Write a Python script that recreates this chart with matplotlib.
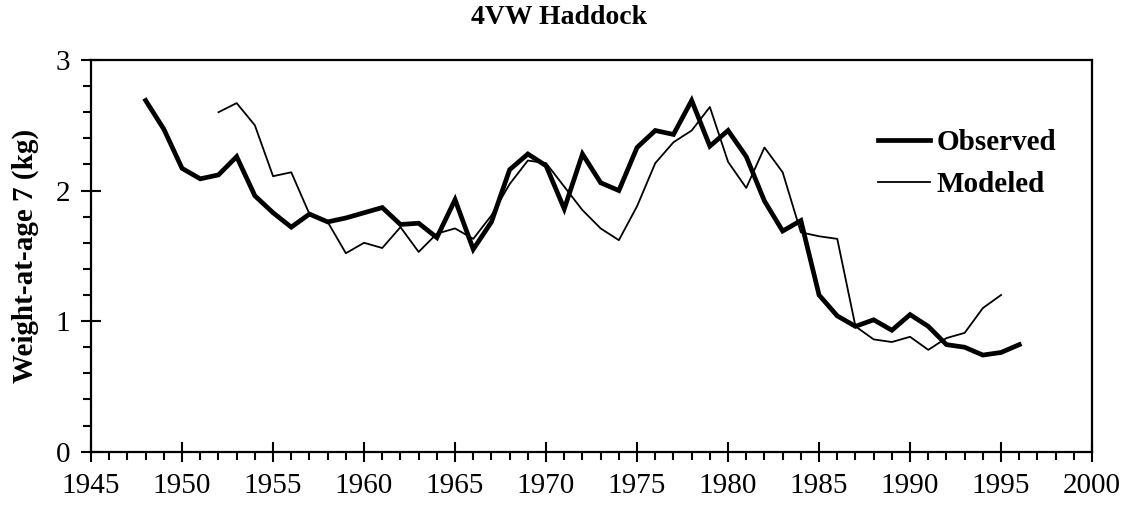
import matplotlib
matplotlib.use("Agg")
import matplotlib.pyplot as plt
from matplotlib.ticker import MultipleLocator

plt.rcParams['font.family'] = ['Liberation Serif', 'DejaVu Serif']

# Weight-at-age 7 of 4VW haddock (kg)
obs_years = list(range(1948, 1997))
observed = [2.69, 2.47, 2.17, 2.09, 2.12, 2.26, 1.96, 1.83, 1.72, 1.82,
            1.76, 1.79, 1.83, 1.87, 1.74, 1.75, 1.64, 1.93, 1.55, 1.76,
            2.16, 2.28, 2.19, 1.86, 2.28, 2.06, 2.00, 2.33, 2.46, 2.43,
            2.69, 2.34, 2.46, 2.26, 1.92, 1.69, 1.77, 1.20, 1.04, 0.96,
            1.01, 0.93, 1.05, 0.96, 0.82, 0.80, 0.74, 0.76, 0.82]

mod_years = list(range(1952, 1996))
modeled = [2.60, 2.67, 2.50, 2.11, 2.14, 1.82, 1.76, 1.52, 1.60, 1.56,
           1.72, 1.53, 1.67, 1.71, 1.63, 1.81, 2.05, 2.23, 2.21, 2.03,
           1.85, 1.71, 1.62, 1.88, 2.21, 2.37, 2.46, 2.64, 2.22, 2.02,
           2.33, 2.14, 1.68, 1.65, 1.63, 0.96, 0.86, 0.84, 0.88, 0.78,
           0.87, 0.91, 1.10, 1.20]

fig = plt.figure(figsize=(11.27, 5.12), dpi=100)
ax = fig.add_axes([0.0808, 0.1178, 0.8882, 0.765])

ax.plot(obs_years, observed, color='black', lw=3.4, solid_joinstyle='miter',
        label='Observed')
ax.plot(mod_years, modeled, color='black', lw=1.3, label='Modeled')

ax.set_xlim(1945, 2000)
ax.set_ylim(0, 3)
ax.xaxis.set_major_locator(MultipleLocator(5))
ax.xaxis.set_minor_locator(MultipleLocator(1))
ax.yaxis.set_major_locator(MultipleLocator(1))
ax.yaxis.set_minor_locator(MultipleLocator(0.2))

ax.tick_params(which='major', direction='inout', length=14, width=1.5,
               labelsize=21, pad=8)
ax.tick_params(axis='y', which='major', pad=8)
ax.tick_params(which='minor', direction='out', length=6, width=1.5)

for sp in ax.spines.values():
    sp.set_linewidth(1.6)

ax.set_ylabel('Weight-at-age 7 (kg)', fontsize=21, fontweight='bold',
              labelpad=12)
fig.text(0.496, 1 - 18 / 512, '4VW Haddock', fontsize=20, fontweight='bold',
         ha='center', va='center')

leg = ax.legend(loc='upper right', bbox_to_anchor=(0.99, 0.89), frameon=False,
                prop={'size': 21, 'weight': 'bold'}, handlelength=1.8,
                handletextpad=0.2, labelspacing=0.5)

fig.savefig('out.png', dpi=100)
